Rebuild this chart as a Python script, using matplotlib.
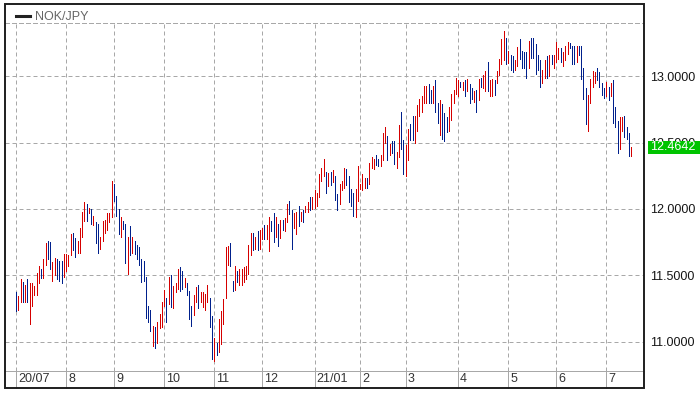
import matplotlib
matplotlib.use("Agg")
import matplotlib.pyplot as plt
import matplotlib.transforms as mtransforms
from matplotlib.patches import Rectangle
from matplotlib.lines import Line2D
import numpy as np

pair = "NOK/JPY"
last_close = 12.4642

# daily high / low, 1 = up day (red), 0 = down day (blue)
high = [11.37, 11.34, 11.47, 11.45, 11.43, 11.47, 11.44, 11.44, 11.42, 11.52,
        11.57, 11.55, 11.62, 11.74, 11.76, 11.75, 11.60, 11.63, 11.62, 11.61,
        11.61, 11.66, 11.66, 11.65, 11.81, 11.82, 11.78, 11.76, 11.86, 11.98,
        12.05, 12.04, 12.01, 12.00, 11.95, 11.90, 11.89, 11.79, 11.91, 11.92,
        11.97, 11.97, 12.21, 12.19, 12.10, 12.00, 11.94, 11.91, 11.89, 11.79,
        11.87, 11.79, 11.76, 11.73, 11.71, 11.62, 11.61, 11.49, 11.27, 11.24,
        11.12, 11.11, 11.15, 11.21, 11.30, 11.39, 11.33, 11.49, 11.50, 11.42,
        11.44, 11.55, 11.56, 11.53, 11.48, 11.44, 11.38, 11.27, 11.35, 11.41,
        11.43, 11.37, 11.37, 11.36, 11.43, 11.33, 11.19, 11.03, 10.99, 11.17,
        11.23, 11.32, 11.71, 11.72, 11.74, 11.46, 11.57, 11.53, 11.55, 11.55,
        11.56, 11.57, 11.73, 11.82, 11.82, 11.79, 11.83, 11.84, 11.86, 11.88,
        11.88, 11.94, 11.91, 11.97, 11.94, 11.89, 11.92, 11.92, 11.93, 12.04,
        12.06, 11.99, 11.97, 11.98, 12.02, 11.98, 11.99, 12.02, 12.05, 12.09,
        12.09, 12.14, 12.12, 12.26, 12.31, 12.38, 12.28, 12.27, 12.28, 12.29,
        12.25, 12.11, 12.19, 12.21, 12.31, 12.30, 12.25, 12.15, 12.12, 12.15,
        12.32, 12.19, 12.26, 12.23, 12.23, 12.35, 12.39, 12.38, 12.41, 12.38,
        12.41, 12.57, 12.62, 12.55, 12.49, 12.51, 12.51, 12.43, 12.63, 12.73,
        12.52, 12.48, 12.60, 12.64, 12.70, 12.70, 12.78, 12.83, 12.85, 12.93,
        12.93, 12.94, 12.90, 12.93, 12.97, 12.80, 12.82, 12.79, 12.72, 12.69,
        12.77, 12.87, 12.90, 12.99, 12.97, 12.96, 12.96, 12.97, 12.98, 12.94,
        12.91, 12.89, 12.90, 12.98, 12.99, 13.01, 13.04, 13.11, 12.97, 12.98,
        12.97, 13.04, 13.13, 13.28, 13.34, 13.29, 13.19, 13.16, 13.15, 13.12,
        13.22, 13.28, 13.19, 13.18, 13.18, 13.27, 13.29, 13.29, 13.24, 13.16,
        13.12, 13.05, 13.12, 13.15, 13.16, 13.16, 13.16, 13.26, 13.21, 13.21,
        13.18, 13.23, 13.26, 13.25, 13.23, 13.23, 13.23, 13.23, 13.23, 13.06,
        12.91, 12.86, 12.98, 13.04, 13.03, 13.06, 13.03, 12.95, 12.91, 12.96,
        12.92, 12.95, 12.97, 12.77, 12.66, 12.69, 12.69, 12.70, 12.62, 12.57, 12.47]
low = [11.23, 11.24, 11.30, 11.30, 11.30, 11.30, 11.13, 11.27, 11.35, 11.35,
       11.44, 11.48, 11.48, 11.58, 11.62, 11.55, 11.46, 11.50, 11.47, 11.46,
       11.44, 11.49, 11.53, 11.57, 11.65, 11.69, 11.64, 11.67, 11.67, 11.79,
       11.91, 11.91, 11.97, 11.89, 11.88, 11.74, 11.67, 11.70, 11.76, 11.82,
       11.84, 11.90, 11.94, 12.06, 11.95, 11.81, 11.79, 11.85, 11.59, 11.51,
       11.65, 11.67, 11.66, 11.62, 11.58, 11.45, 11.46, 11.18, 11.15, 11.08,
       10.97, 10.95, 10.99, 11.10, 11.11, 11.27, 11.15, 11.28, 11.26, 11.25,
       11.37, 11.40, 11.38, 11.40, 11.41, 11.35, 11.17, 11.12, 11.20, 11.30,
       11.25, 11.30, 11.26, 11.24, 11.30, 11.11, 10.87, 10.85, 10.90, 10.92,
       10.98, 11.13, 11.33, 11.58, 11.57, 11.38, 11.39, 11.45, 11.43, 11.43,
       11.45, 11.47, 11.51, 11.65, 11.69, 11.70, 11.69, 11.70, 11.77, 11.77,
       11.77, 11.68, 11.83, 11.75, 11.79, 11.72, 11.78, 11.84, 11.83, 11.90,
       11.96, 11.70, 11.86, 11.81, 11.87, 11.91, 11.90, 11.98, 11.98, 11.99,
       12.00, 12.01, 12.02, 12.09, 12.21, 12.25, 12.12, 12.17, 12.18, 12.20,
       12.07, 11.99, 12.04, 12.14, 12.16, 12.18, 12.05, 12.02, 11.95, 11.94,
       12.06, 12.15, 12.14, 12.16, 12.16, 12.19, 12.31, 12.30, 12.33, 12.32,
       12.32, 12.37, 12.50, 12.37, 12.41, 12.42, 12.34, 12.31, 12.39, 12.45,
       12.26, 12.25, 12.37, 12.52, 12.52, 12.50, 12.59, 12.70, 12.73, 12.80,
       12.80, 12.80, 12.80, 12.80, 12.73, 12.65, 12.56, 12.53, 12.51, 12.58,
       12.59, 12.67, 12.80, 12.87, 12.85, 12.92, 12.90, 12.85, 12.89, 12.80,
       12.83, 12.81, 12.73, 12.82, 12.92, 12.91, 12.89, 12.89, 12.85, 12.85,
       12.86, 12.95, 13.01, 13.09, 13.12, 13.09, 13.10, 13.05, 13.03, 13.05,
       13.08, 13.13, 13.06, 13.06, 12.99, 13.06, 13.14, 13.14, 13.02, 13.05,
       12.92, 12.95, 12.99, 12.99, 13.00, 13.09, 13.06, 13.11, 13.13, 13.11,
       13.08, 13.12, 13.17, 13.21, 13.09, 13.09, 13.11, 13.16, 12.98, 12.83,
       12.64, 12.59, 12.80, 12.92, 12.95, 12.97, 12.92, 12.86, 12.84, 12.85,
       12.82, 12.85, 12.65, 12.62, 12.42, 12.45, 12.59, 12.54, 12.53, 12.40, 12.40]
up = [0, 1, 1, 0, 1, 0, 1, 1, 1, 1,
      1, 0, 1, 1, 0, 0, 1, 1, 0, 0,
      0, 1, 1, 1, 1, 0, 0, 1, 1, 1,
      1, 0, 1, 0, 1, 0, 0, 1, 1, 1,
      1, 1, 1, 0, 0, 0, 1, 0, 0, 1,
      0, 1, 0, 0, 0, 0, 0, 0, 0, 0,
      1, 0, 1, 1, 1, 1, 0, 1, 0, 1,
      1, 1, 0, 0, 1, 0, 0, 0, 1, 1,
      0, 1, 1, 1, 1, 0, 0, 1, 0, 1,
      1, 1, 1, 1, 0, 0, 1, 0, 1, 1,
      1, 1, 1, 1, 0, 1, 0, 1, 1, 0,
      1, 1, 0, 0, 1, 0, 1, 0, 1, 1,
      0, 0, 1, 1, 0, 1, 0, 1, 1, 0,
      1, 1, 1, 1, 1, 1, 0, 1, 0, 1,
      0, 0, 1, 1, 1, 0, 0, 0, 0, 1,
      1, 1, 1, 1, 0, 1, 1, 1, 0, 0,
      1, 1, 1, 0, 1, 0, 0, 1, 1, 0,
      0, 1, 1, 0, 0, 1, 1, 1, 1, 1,
      1, 0, 0, 1, 0, 0, 1, 0, 0, 0,
      1, 1, 1, 1, 1, 0, 1, 0, 1, 0,
      0, 1, 0, 1, 0, 1, 1, 0, 1, 1,
      0, 1, 1, 1, 1, 0, 1, 0, 0, 1,
      1, 0, 0, 0, 0, 1, 0, 0, 0, 0,
      0, 1, 1, 0, 1, 0, 1, 1, 1, 0,
      1, 1, 1, 0, 0, 0, 1, 0, 0, 0,
      0, 1, 1, 1, 1, 0, 0, 0, 0, 1,
      0, 1, 0, 0, 0, 1, 1, 0, 0, 0, 1]

month_labels = ["20/07", "8", "9", "10", "11", "12", "21/01", "2", "3", "4", "5", "6", "7"]
month_start = [0, 22, 43, 65, 87, 108, 131, 151, 171, 194, 216, 237, 259]
price_ticks = [11.0, 11.5, 12.0, 12.5, 13.0]

W, H = 700, 395
plt.rcParams['font.family'] = ['Liberation Sans', 'DejaVu Sans']
fig = plt.figure(figsize=(W / 100, H / 100), dpi=100)
ax = fig.add_axes([5 / W, 1 - 371 / H, 639 / W, 348 / H])

x = np.arange(len(high))
colors = ['#d50000' if u else '#00208c' for u in up]
ax.vlines(x, low, high, colors=colors, lw=0.72, antialiased=False, zorder=3)

ax.set_xlim(-4.83, 275.56)
ax.set_ylim(10.778, 13.402)

dash = (0, (4, 3))
ax.set_xticks(month_start)
ax.set_yticks(price_ticks)
ax.set_yticklabels([f"{v:.4f}" for v in price_ticks])
ax.grid(True, color='#a8a8a8', linewidth=0.72, linestyle=dash)
ax.tick_params(axis='x', length=0, labelbottom=False)
ax.tick_params(axis='y', length=0, left=False, labelleft=False, labelright=True,
               pad=4.3, labelsize=9, labelcolor='#151515')

ax.spines['left'].set_visible(False)
ax.spines['right'].set_visible(False)
ax.spines['top'].set_color('#a8a8a8')
ax.spines['top'].set_linewidth(0.72)
ax.spines['top'].set_linestyle(dash)
ax.spines['bottom'].set_color('#a8a8a8')
ax.spines['bottom'].set_linewidth(0.72)

# month strip under the plot
strip = mtransforms.blended_transform_factory(ax.transData, fig.transFigure)
strip_txt = mtransforms.offset_copy(strip, fig=fig, x=2, y=0, units='dots')
for m, lab in zip(month_start, month_labels):
    fig.add_artist(Line2D([m, m], [1 - 388 / H, 1 - 371 / H], transform=strip,
                          color='#a8a8a8', lw=0.72))
    fig.text(m, 1 - 379 / H, lab, transform=strip_txt, ha='left', va='center',
             fontsize=9, color='#333333')

# outer frame
fig.add_artist(Rectangle((5 / W, 1 - 388 / H), 639 / W, 384 / H, transform=fig.transFigure,
                         fill=False, ec='#1e1e1e', lw=1.4, zorder=5))

# legend
fig.add_artist(Line2D([16 / W, 30 / W], [1 - 16 / H, 1 - 16 / H], transform=fig.transFigure,
                      color='#222222', lw=2.2))
fig.text(35.5 / W, 1 - 16.5 / H, pair, ha='left', va='center', fontsize=9, color='#666666')

# last price box
side = mtransforms.blended_transform_factory(fig.transFigure, ax.transData)
fig.add_artist(Rectangle((647.5 / W, last_close - 0.05), 52.5 / W, 0.1, transform=side,
                         fc='#00c400', ec='none', zorder=6))
fig.text(650 / W, last_close, f"{last_close:.4f}", transform=side, ha='left', va='center',
         fontsize=9, color='white', zorder=7)

fig.savefig('out.png', dpi=100)
